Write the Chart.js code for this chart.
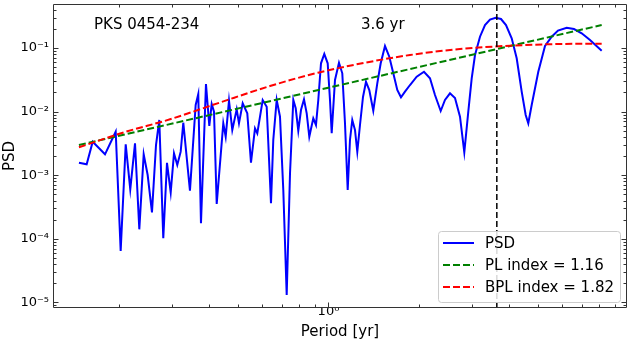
<!DOCTYPE html>
<html><head><meta charset="utf-8">
<script src="https://cdn.jsdelivr.net/npm/chart.js@4.4.1/dist/chart.umd.min.js"></script>
<style>html,body{margin:0;padding:0;background:#fff;} #wrap{width:631px;height:344px;}</style>
</head><body><div id="wrap"><canvas id="c" width="631" height="344"></canvas></div>
<script>
// ---------------- data ----------------
const PERIOD = [0.1473,0.1563,0.1637,0.1799,0.1953,0.2029,0.2109,0.2184,0.2265,0.2341,
0.2421,0.2496,0.2580,0.2661,0.2729,0.2814,0.2895,0.2979,0.3055,0.3133,
0.3216,0.3281,0.3453,0.3608,0.3681,0.3758,0.3905,0.4006,0.4080,0.4153,
0.4240,0.4460,0.4543,0.4660,0.4779,0.4943,0.5031,0.5176,0.5362,0.5516,
0.5689,0.5790,0.6035,0.6223,0.6432,0.6546,0.6719,0.6892,0.7069,0.7256,
0.7443,0.7634,0.7775,0.7931,0.8097,0.8286,0.8460,0.8630,0.8898,0.9084,
0.9247,0.9441,0.9683,0.9939,1.0116,1.0249,1.0512,1.0839,1.1117,1.1350,
1.1588,1.1793,1.2003,1.2255,1.2474,1.2735,1.3032,1.3335,1.3677,1.4103,
1.4543,1.4928,1.5430,1.5948,1.6444,1.6956,1.7445,1.7989,1.8694,1.9679,
2.0810,2.1793,2.2646,2.3659,2.4452,2.5410,2.6404,2.7437,2.8359,2.9242,
3.0016,3.0789,3.1989,3.3241,3.4539,3.6082,3.7584,3.9054,4.0802,4.2396,
4.4055,4.5425,4.6345,4.7569,5.0043,5.2690,5.5463,5.8210,6.2230,6.5811,
6.9823,7.4419,8.1403];
const PSD = [1.572e-3,1.484e-3,3.363e-3,2.131e-3,4.83e-3,6.43e-5,3.06e-3,6.0e-4,3.17e-3,1.41e-4,
2.13e-3,1.007e-3,2.61e-4,2.985e-3,7.38e-3,1.018e-4,1.57e-3,5.38e-4,2.21e-3,1.447e-3,
2.343e-3,6.69e-3,5.71e-4,1.27e-2,1.891e-2,1.753e-4,2.716e-2,5.94e-3,1.317e-2,9.96e-3,
3.53e-4,6.55e-3,4.03e-3,1.484e-2,5.14e-3,1.087e-2,6.55e-3,1.35e-2,9.40e-3,1.57e-3,
5.46e-3,4.56e-3,1.522e-2,1.194e-2,3.62e-4,3.58e-3,1.522e-2,8.31e-3,5.85e-4,1.307e-5,
1.071e-3,1.522e-2,1.127e-2,5.01e-3,1.060e-2,1.561e-2,9.40e-3,4.03e-3,7.85e-3,6.16e-3,
1.522e-2,5.75e-2,8.05e-2,5.75e-2,1.522e-2,4.56e-3,3.14e-2,5.87e-2,4.00e-2,6.55e-3,
5.85e-4,3.58e-3,7.38e-3,5.14e-3,2.34e-3,6.16e-3,1.697e-2,2.952e-2,2.186e-2,1.033e-2,
2.786e-2,5.75e-2,0.1075,7.30e-2,4.00e-2,2.186e-2,1.678e-2,2.056e-2,2.62e-2,3.54e-2,
4.24e-2,3.34e-2,1.824e-2,1.022e-2,1.522e-2,1.94e-2,1.636e-2,8.31e-3,2.29e-3,9.96e-3,
3.34e-2,7.76e-2,0.1505,0.2299,0.2806,0.2995,0.2858,0.2299,0.1421,6.89e-2,
2.056e-2,8.84e-3,6.55e-3,1.27e-2,4.24e-2,0.1075,0.1505,0.1884,0.2085,0.1989,
0.1702,0.1336,9.07e-2];
const PL_PERIOD = [0.1473, 8.1403];
const PL_PSD = [2.985e-3, 0.2299];
const BPL_PERIOD = [0.1473,0.2097,0.2963,0.4347,0.6383,0.9226,1.3233,1.8694,2.7437,4.0272,5.9115,8.1403];
const BPL_PSD = [2.746e-3,4.778e-3,7.568e-3,1.390e-2,2.526e-2,4.089e-2,5.87e-2,7.76e-2,9.645e-2,0.1087,0.1156,0.1168];
const PEAK_PERIOD = 3.64;
const X_RANGE = [0.1207, 9.886];
const Y_RANGE = [8.17e-6, 0.492];
const X_MAJOR = [1];
const X_MINOR = [0.2,0.3,0.4,0.5,0.6,0.7,0.8,0.9,2,3,4,5,6,7,8,9];
const Y_MAJOR = [1e-5,1e-4,1e-3,1e-2,1e-1];
const Y_MINOR = [9e-6,
 2e-5,3e-5,4e-5,5e-5,6e-5,7e-5,8e-5,9e-5,
 2e-4,3e-4,4e-4,5e-4,6e-4,7e-4,8e-4,9e-4,
 2e-3,3e-3,4e-3,5e-3,6e-3,7e-3,8e-3,9e-3,
 2e-2,3e-2,4e-2,5e-2,6e-2,7e-2,8e-2,9e-2,
 2e-1,3e-1,4e-1];
const SERIES_LABELS = ['PSD','PL index = 1.16','BPL index = 1.82'];
const SOURCE_NAME = 'PKS 0454-234';
const PEAK_LABEL = '3.6 yr';
const X_TITLE = 'Period [yr]';
const Y_TITLE = 'PSD';
// -----------------------------------------------------------------

const FONT = 'DejaVu Sans';
Chart.defaults.font.family = FONT;
Chart.defaults.color = '#000';

const SUP = {'-':'\u207B','0':'\u2070','1':'\u00B9','2':'\u00B2','3':'\u00B3','4':'\u2074','5':'\u2075','6':'\u2076','7':'\u2077','8':'\u2078','9':'\u2079'};
function powLabel(v){
  const e = Math.round(Math.log10(v));
  return '10' + String(e).split('').map(c => SUP[c]).join('');
}
const pts = (xs, ys) => xs.map((x, i) => ({x, y: ys[i]}));

const frameTicks = {
  id: 'frameTicks',
  afterDatasetsDraw(chart) {
    const {ctx, chartArea: a, scales: {x, y}} = chart;
    ctx.save();
    ctx.strokeStyle = '#333';
    ctx.lineWidth = 1;
    const L = a.left + 0.5, R = a.right - 0.5, T = a.top + 0.5, B = a.bottom - 0.5;
    ctx.beginPath();
    ctx.rect(L, T, R - L, B - T);
    ctx.stroke();
    ctx.beginPath();
    const tx = (v, len) => {
      const p = Math.round(x.getPixelForValue(v)) + 0.5;
      ctx.moveTo(p, B); ctx.lineTo(p, B - len);
      ctx.moveTo(p, T); ctx.lineTo(p, T + len);
    };
    const ty = (v, len) => {
      const p = Math.round(y.getPixelForValue(v)) + 0.5;
      ctx.moveTo(L, p); ctx.lineTo(L + len, p);
      ctx.moveTo(R, p); ctx.lineTo(R - len, p);
    };
    X_MAJOR.forEach(v => tx(v, 5));
    X_MINOR.forEach(v => tx(v, 3));
    Y_MAJOR.forEach(v => ty(v, 5));
    Y_MINOR.forEach(v => ty(v, 3));
    ctx.stroke();
    ctx.restore();
  },
  afterDraw(chart) {
    const {ctx, chartArea: a} = chart;
    ctx.save();
    ctx.fillStyle = '#000';
    ctx.textBaseline = 'alphabetic';
    ctx.textAlign = 'left';
    ctx.font = '15px "' + FONT + '"';
    ctx.fillText(SOURCE_NAME, a.left + 41, a.top + 25);
    ctx.fillText(PEAK_LABEL, a.left + 308, a.top + 25);

    // legend
    const bw = 182, bh = 71;
    const bx = a.right - 7 - bw, by = a.bottom - 6 - bh;
    ctx.beginPath();
    ctx.roundRect(bx + 0.5, by + 0.5, bw, bh, 3);
    ctx.fillStyle = 'rgba(255,255,255,0.85)';
    ctx.fill();
    ctx.strokeStyle = '#cccccc';
    ctx.lineWidth = 1;
    ctx.stroke();
    const ds = chart.data.datasets;
    for (let i = 0; i < 3; i++) {
      const cy = by + 12 + i * 22;
      ctx.beginPath();
      ctx.setLineDash(ds[i].borderDash || []);
      ctx.strokeStyle = ds[i].borderColor;
      ctx.lineWidth = 2;
      ctx.moveTo(bx + 5, cy); ctx.lineTo(bx + 36, cy);
      ctx.stroke();
      ctx.setLineDash([]);
      ctx.fillStyle = '#000';
      ctx.textBaseline = 'middle';
      ctx.fillText(ds[i].label, bx + 47, cy + 1);
    }
    ctx.restore();
  }
};

new Chart(document.getElementById('c'), {
  type: 'line',
  data: {
    datasets: [
      {label: SERIES_LABELS[0], data: pts(PERIOD, PSD), borderColor: '#0000ff', borderWidth: 2, pointRadius: 0, tension: 0, order: 4},
      {label: SERIES_LABELS[1], data: pts(PL_PERIOD, PL_PSD), borderColor: '#008000', borderWidth: 2, borderDash: [7, 3], pointRadius: 0, order: 3},
      {label: SERIES_LABELS[2], data: pts(BPL_PERIOD, BPL_PSD), borderColor: '#ff0000', borderWidth: 2, borderDash: [7, 3], pointRadius: 0, cubicInterpolationMode: 'monotone', order: 2},
      {label: 'peak', data: [{x: PEAK_PERIOD, y: Y_RANGE[0]}, {x: PEAK_PERIOD, y: Y_RANGE[1]}], borderColor: '#000', borderWidth: 1.5, borderDash: [6, 3], pointRadius: 0, order: 1}
    ]
  },
  options: {
    responsive: false,
    devicePixelRatio: 1,
    animation: false,
    layout: {padding: {top: 4, right: 4, left: 0, bottom: 0}},
    plugins: {legend: {display: false}, tooltip: {enabled: false}},
    scales: {
      x: {
        type: 'logarithmic', min: X_RANGE[0], max: X_RANGE[1],
        grid: {display: false, drawTicks: false}, border: {display: false},
        afterBuildTicks: s => { s.ticks = X_MAJOR.map(v => ({value: v})); },
        afterFit: s => { s.height = 36; s.paddingLeft = 0; s.paddingRight = 0; },
        ticks: {autoSkip: false, maxRotation: 0, padding: -4, font: {size: 13}, callback: v => powLabel(v)},
        title: {display: true, text: X_TITLE, font: {size: 15}, padding: {top: 0, bottom: 3}}
      },
      y: {
        type: 'logarithmic', min: Y_RANGE[0], max: Y_RANGE[1],
        grid: {display: false, drawTicks: false}, border: {display: false},
        afterBuildTicks: s => { s.ticks = Y_MAJOR.map(v => ({value: v})); },
        afterFit: s => { s.width = 53; s.paddingTop = 0; s.paddingBottom = 0; },
        ticks: {autoSkip: false, padding: 4, font: {size: 13}, callback: v => powLabel(v)},
        title: {display: true, text: Y_TITLE, font: {size: 15}, padding: {top: 1, bottom: 0}}
      }
    }
  },
  plugins: [frameTicks]
});
</script>
</body></html>
